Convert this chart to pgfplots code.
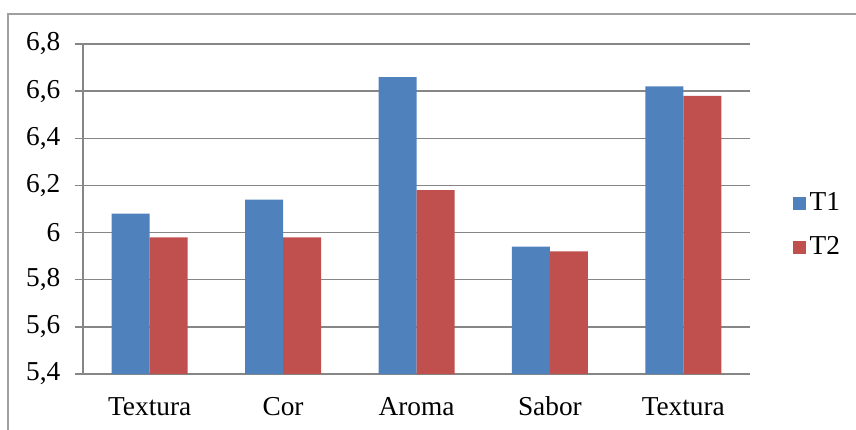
\documentclass[border=0pt]{standalone}
\usepackage{pgfplots}
\pgfplotsset{compat=1.18}
\usepackage{fontspec}
\setmainfont{Liberation Serif}
\definecolor{cB}{HTML}{4F81BD}
\definecolor{cR}{HTML}{C0504D}
\definecolor{gridc}{HTML}{868686}
\definecolor{framec}{HTML}{A0A0A0}
\begin{document}
\fontsize{20.5}{24}\selectfont
\begin{tikzpicture}
\useasboundingbox (0,0) rectangle (642pt,-321.75pt);
\draw[framec, line width=1pt] (6pt,-340pt) -- (6pt,-10.5pt) -- (660pt,-10.5pt);
\begin{axis}[
  at={(62.25pt,-280.5pt)}, anchor=south west,
  scale only axis, width=500.25pt, height=247.5pt,
  ybar=0pt, bar width=28.5pt,
  xmin=-0.5, xmax=4.5, ymin=5.4, ymax=6.8,
  xtick={0,1,2,3,4},
  xticklabels={Textura,Cor,Aroma,Sabor,Textura},
  minor xtick={-0.5,0.5,1.5,2.5,3.5,4.5},
  ytick={5.4,5.6,5.8,6,6.2,6.4,6.6,6.8},
  /pgf/number format/fixed, /pgf/number format/use comma,
  /pgf/number format/precision=1, /pgf/number format/assume math mode=true,
  axis x line*=bottom, axis y line*=left,
  axis line style={gridc, line width=1pt, -},
  tick align=outside,
  major tick length=6pt,
  minor tick length=5pt,
  xtick style={draw=none},
  minor x tick style={gridc, line width=1pt},
  ytick style={gridc, line width=1pt},
  ymajorgrids, grid style={gridc, line width=1pt},
  xticklabel style={font=\fontsize{20.5}{24}\selectfont, anchor=base, yshift=-25pt},
  yticklabel style={font=\fontsize{20.5}{24}\selectfont, xshift=-4pt},
  legend style={at={(1.0645,0.45)}, anchor=west, draw=none, fill=none, inner sep=0pt,
    font=\fontsize{20.5}{24}\selectfont, row sep=17pt,
    nodes={inner xsep=2.5pt, inner ysep=0pt}},
  legend image code/.code={\fill (0pt,-4.875pt) rectangle (9.75pt,4.875pt);},
  legend cell align=left,
]
\addplot[fill=cB, draw=none] coordinates {(0,6.08) (1,6.14) (2,6.66) (3,5.94) (4,6.62)};
\addplot[fill=cR, draw=none] coordinates {(0,5.98) (1,5.98) (2,6.18) (3,5.92) (4,6.58)};
\legend{T1,T2}
\end{axis}
\end{tikzpicture}
\end{document}
